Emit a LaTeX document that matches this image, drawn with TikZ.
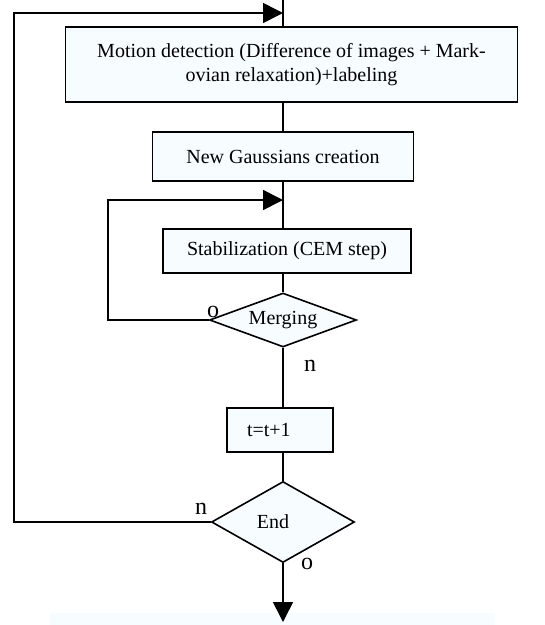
\documentclass[tikz,border=0pt]{standalone}
\usepackage{fontspec}
\setmainfont{Liberation Serif}
\usepackage{tikz}
\usetikzlibrary{arrows.meta,shapes.geometric}
\definecolor{paleblue}{HTML}{F6FCFF}

\begin{document}
\begin{tikzpicture}[x=1pt,y=-1pt,
    box/.style={draw,fill=paleblue,line width=1.6pt,inner sep=0pt,font=\fontsize{20}{24.5}\selectfont},
    dec/.style={diamond,draw,fill=paleblue,line width=1.6pt,inner sep=0pt,font=\fontsize{20}{24.5}\selectfont},
    lab/.style={inner sep=0pt,font=\fontsize{24}{24}\selectfont},
    line/.style={line width=1.6pt},
    arr/.style={line width=1.6pt,-{Triangle[length=20pt,width=20pt]}}]
	\useasboundingbox (0,0) rectangle (545,625);
	\fill[paleblue] (50,613) rectangle (495,625);

	% steps
	\node[box,minimum width=452,minimum height=75,align=center] (motion) at (291.5,64.5) {Motion detection (Difference of images + Mark-\\ovian relaxation)+labeling};
	\node[box,minimum width=261,minimum height=49] (gauss) at (283,156.5) {New Gaussians creation};
	\node[box,minimum width=248,minimum height=44] (stab) at (287,251) {Stabilization (CEM step)};
	\node[dec,aspect=2.72,minimum width=147,minimum height=54] (merge) at (283,320) {Merging};
	\node[box,text width=66pt,inner xsep=20pt,minimum height=44,align=left] (incr) at (280,430) {t=t+1};
	\node[dec,aspect=1.77,minimum width=143,minimum height=81] (stop) at (283,522) {End\hspace*{20pt}};

	% answers
	\node[lab] (mergeyes) at (213,312) {o};
	\node[lab] (mergeno)  at (310,366) {n};
	\node[lab] (stopno)   at (201,509) {n};
	\node[lab] (stopyes)  at (307,564) {o};

	\coordinate (top)   at (283,0);
	\coordinate (outer) at (14,13);
	\coordinate (inner) at (108,200);
	\coordinate (exit)  at (283,622);

	\draw[line] (top) -- (top |- motion.north);
	\draw[line] (top |- motion.south) -- (gauss.north);
	\draw[line] (gauss.south) -- (gauss.south |- stab.north);
	\draw[line] (merge.north |- stab.south) -- (merge.north);
	\draw[line] (merge.south) -- (merge.south |- incr.north);
	\draw[line] (stop.north |- incr.south) -- (stop.north);
	\draw[arr] (stop.south) -- (exit);

	% loops
	\draw[arr] (merge.west) -| (inner) -- (merge.north |- inner);
	\draw[arr] (stop.west) -| (outer) -- (top |- outer);
\end{tikzpicture}
\end{document}
